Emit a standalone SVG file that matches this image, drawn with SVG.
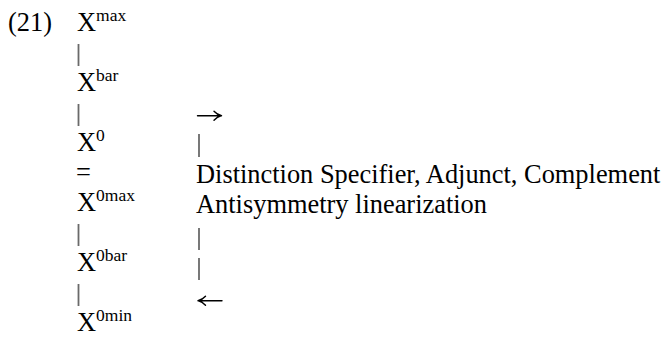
<svg xmlns="http://www.w3.org/2000/svg" width="668" height="337" viewBox="0 0 668 337">
  <style>
    text { font-family: "Liberation Serif", "Times New Roman", serif; font-size: 26.4px; fill: #000; }
    .sup { font-size: 17.5px; }
    .bar { stroke: #6a6a6a; stroke-width: 1.8; }
    .arrow { stroke: #000; stroke-width: 1.4; fill: none; stroke-linecap: round; stroke-linejoin: round; }
  </style>
  <rect width="668" height="337" fill="#fff"/>
  <text id="label" x="8" y="31">(21)</text>
  <!-- left column: projection levels -->
  <g id="xmax"><text x="77" y="31">X<tspan class="sup" dy="-10">max</tspan></text></g>
  <g id="xbar"><text x="77" y="91">X<tspan class="sup" dy="-10">bar</tspan></text></g>
  <g id="x0"><text x="77" y="151">X<tspan class="sup" dy="-10">0</tspan></text></g>
  <g id="eq"><text x="76" y="181">=</text></g>
  <g id="x0max"><text x="77" y="211">X<tspan class="sup" dy="-10">0max</tspan></text></g>
  <g id="x0bar"><text x="77" y="271">X<tspan class="sup" dy="-10">0bar</tspan></text></g>
  <g id="x0min"><text x="77" y="331">X<tspan class="sup" dy="-10">0min</tspan></text></g>
  <!-- right column: linearization notes -->
  <g id="distinction"><text x="196" y="183">Distinction Specifier, Adjunct, Complement</text></g>
  <g id="antisymmetry"><text x="196" y="213">Antisymmetry linearization</text></g>
  <!-- connectors: vertical bars and arrows -->
  <g id="connectors">
    <line class="bar" x1="78.5" y1="44" x2="78.5" y2="66"/>
    <line class="bar" x1="78.5" y1="104" x2="78.5" y2="126"/>
    <line class="bar" x1="78.5" y1="224" x2="78.5" y2="246"/>
    <line class="bar" x1="78.5" y1="284" x2="78.5" y2="306"/>
    <line class="bar" x1="199" y1="134" x2="199" y2="157"/>
    <line class="bar" x1="199" y1="228" x2="199" y2="250"/>
    <line class="bar" x1="199" y1="258" x2="199" y2="280"/>
    <path class="arrow" d="M197.5 115.7 H221.5 M214 111.2 Q217 114.5 221.5 115.7 Q217 117 214 120.2"/>
    <path class="arrow" d="M222 300.7 H198 M205.5 296.2 Q202.5 299.5 198 300.7 Q202.5 302 205.5 305.2"/>
  </g>
</svg>
